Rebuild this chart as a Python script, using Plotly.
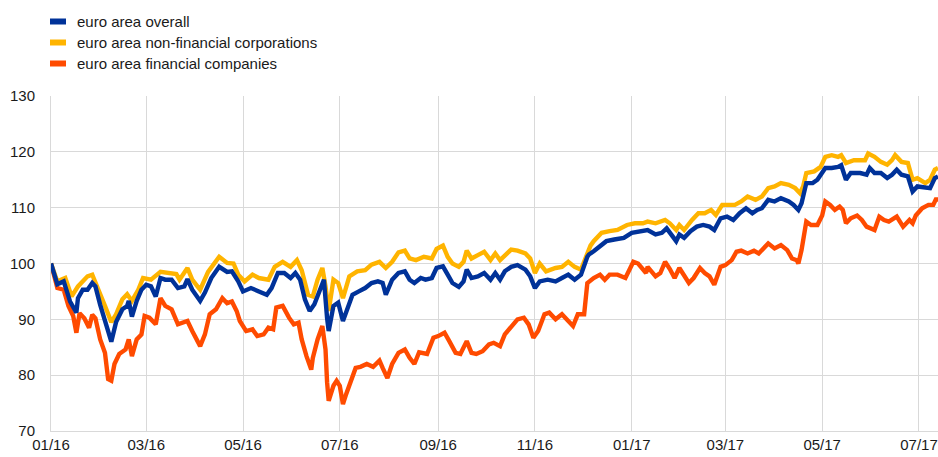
import pandas as pd
import plotly.graph_objects as go

START = "2016-01-01"

# days since 01/01/2016 and index values (01/01/2016 = 100)
overall_days = [0, 4, 8, 12, 16, 17, 20, 23, 26, 28, 31, 34, 36, 38, 41, 45, 48, 49, 51, 54, 57, 60, 63, 66, 69, 72, 76, 80, 84, 86, 89, 94, 97, 101, 106, 111,
                114, 118, 121, 126, 131, 136, 139, 143, 147, 151, 154, 157, 160, 163, 166, 169, 172, 174, 175, 178, 181, 184, 187, 190, 194, 198, 202, 206, 209, 211, 215, 219, 223,
                226, 229, 233, 236, 240, 243, 247, 250, 253, 257, 260, 262, 265, 269, 273, 277, 280, 283, 286, 290, 294, 299, 302, 305, 308, 313, 318, 322, 326, 330, 334, 338,
                339, 342, 346, 350, 355, 361, 366, 371, 376, 381, 385, 388, 391, 394, 396, 399, 403, 407, 411, 415, 418, 422, 426, 430, 434, 438, 442, 445, 448,
                452, 456, 460, 465, 468, 471, 473, 476, 480, 483, 488, 492, 496, 498, 501, 504, 510, 514, 516, 519, 523, 527, 530, 533, 536, 540, 543, 546, 551, 554, 557, 559]
overall = [100.0, 96.3, 96.8, 93.2, 91.2, 93.8, 95.3, 95.3, 96.5, 95.9, 92.6, 89.9, 88.2, 86.0, 89.5, 91.8, 92.4, 93.3, 90.5, 93.3, 95.3, 96.2, 95.9, 94.1, 97.4, 97.1, 97.1, 95.6, 95.9, 97.2, 95.3, 93.3, 94.8, 97.4, 99.4, 98.5,
           98.6, 96.8, 95.0, 95.6, 95.0, 94.4, 95.6, 98.3, 98.3, 97.4, 98.3, 97.1, 93.6, 91.5, 92.7, 94.8, 97.1, 90.2, 87.9, 92.4, 93.0, 89.7, 91.8, 94.4, 95.0, 95.6, 96.5, 96.8, 96.5, 94.4, 97.1, 98.3, 98.6,
           97.1, 96.5, 97.4, 97.1, 97.4, 99.2, 99.5, 98.0, 96.5, 95.8, 96.8, 98.9, 97.4, 97.7, 98.3, 97.1, 98.3, 97.1, 98.6, 99.4, 99.7, 98.9, 97.7, 95.6, 96.8, 97.1, 96.8, 97.4, 98.0, 97.1, 98.0, 101.2,
           101.6, 102.2, 103.1, 104.0, 104.3, 104.6, 105.5, 105.8, 106.0, 105.2, 105.5, 106.3, 105.2, 104.0, 105.2, 104.6, 105.8, 106.6, 106.9, 106.6, 106.0, 108.1, 108.4, 107.8, 109.0, 109.9, 109.0, 109.6, 109.9,
           111.4, 111.1, 111.7, 111.1, 110.5, 109.6, 110.8, 114.4, 114.4, 115.0, 117.1, 117.1, 117.3, 117.6, 115.0, 116.2, 116.2, 115.9, 117.1, 116.2, 116.2, 115.3, 115.9, 116.8, 115.9, 115.6, 112.9, 113.8, 113.5, 113.5, 115.3, 115.6]

nfc_days = [0, 4, 9, 13, 17, 20, 23, 26, 31, 34, 38, 41, 45, 48, 51, 55, 58, 63, 69, 74, 79, 81, 86, 89, 94, 99, 106, 111,
            115, 118, 122, 127, 131, 137, 141, 146, 151, 155, 158, 162, 165, 168, 171, 173, 175, 178, 181, 184, 188, 193, 198, 202, 207, 211, 215, 219, 223,
            226, 230, 235, 240, 243, 247, 250, 253, 257, 260, 262, 265, 269, 273, 277, 280, 283, 286, 290, 294, 299, 302, 305, 308, 312, 318, 322, 326, 330, 334, 338,
            340, 342, 347, 352, 357, 363, 368, 373, 376, 381, 387, 390, 394, 396, 399, 404, 408, 412, 416, 419, 423, 427, 431, 435, 439, 444, 448,
            452, 456, 460, 465, 469, 472, 474, 476, 481, 485, 488, 492, 496, 498, 501, 506, 510, 513, 515, 519, 523, 527, 530, 532, 536, 540, 543, 546, 551, 554, 557, 559]
nfc = [100.0, 96.8, 97.4, 94.1, 95.9, 96.8, 97.7, 98.0, 94.8, 92.4, 89.5, 90.9, 93.6, 94.5, 93.3, 95.3, 97.4, 97.1, 98.5, 98.3, 98.1, 97.1, 99.2, 97.1, 95.3, 98.5, 101.2, 100.1,
       100.0, 98.0, 96.8, 98.0, 97.4, 97.1, 99.4, 100.3, 99.4, 100.6, 98.8, 94.4, 94.1, 97.1, 99.2, 95.9, 91.5, 97.1, 96.5, 93.8, 97.7, 98.6, 98.8, 99.8, 100.3, 99.2, 100.3, 102.0, 102.3,
       100.9, 100.6, 101.2, 100.9, 102.6, 103.2, 101.2, 100.0, 99.4, 100.3, 102.3, 100.9, 101.5, 102.1, 100.6, 101.8, 100.6, 101.5, 102.5, 102.3, 101.8, 100.9, 98.3, 100.0, 98.6, 99.2, 99.4, 100.3, 99.4, 98.9, 102.1,
       103.2, 104.0, 105.5, 105.8, 106.0, 106.9, 107.2, 107.2, 107.5, 107.2, 107.8, 107.2, 106.0, 106.9, 106.0, 107.8, 109.0, 109.0, 109.6, 108.7, 110.5, 110.5, 110.5, 111.1, 112.0, 111.4, 112.0,
       113.5, 113.8, 114.4, 114.1, 113.5, 112.6, 113.8, 116.2, 116.5, 117.3, 119.1, 119.4, 119.1, 119.4, 118.0, 118.5, 118.5, 118.5, 119.7, 119.1, 118.2, 117.7, 118.5, 119.4, 118.2, 118.0, 115.0, 115.3, 114.4, 115.0, 116.8, 117.1]

fin_days = [0, 4, 8, 11, 14, 16, 18, 21, 24, 26, 28, 31, 34, 36, 38, 40, 43, 47, 49, 51, 54, 57, 59, 62, 66, 69, 72, 76, 80, 86, 89, 94, 97, 100, 104, 108, 111,
            114, 117, 119, 123, 127, 130, 134, 137, 140, 142, 146, 150, 153, 156, 158, 161, 164, 165, 168, 171, 173, 174, 175, 178, 180, 182, 184, 186, 189, 192, 195, 199, 203, 207, 209, 212, 215, 219, 223,
            226, 229, 232, 237, 241, 244, 248, 251, 255, 258, 262, 265, 268, 272, 276, 279, 283, 286, 290, 294, 298, 301, 304, 307, 311, 314, 318, 322, 326, 329, 332, 336,
            338, 342, 346, 349, 352, 357, 362, 367, 370, 375, 376, 381, 384, 387, 390, 393, 396, 399, 402, 405, 409, 412, 415, 418, 422, 425, 429, 432, 435, 439, 443, 446, 450,
            452, 456, 460, 464, 467, 470, 471, 473, 476, 479, 483, 486, 488, 491, 494, 497, 499, 501, 504, 508, 511, 514, 519, 522, 525, 528, 533, 537, 541, 543, 545, 549, 553, 556, 558, 559]
fin = [100.0, 95.6, 95.3, 92.4, 90.6, 87.6, 91.1, 90.2, 88.5, 90.8, 90.2, 86.4, 84.0, 79.3, 79.0, 82.0, 83.8, 84.6, 86.4, 83.4, 86.4, 87.3, 90.6, 90.3, 89.1, 93.8, 92.4, 91.8, 89.1, 89.7, 87.9, 85.2, 87.3, 90.9, 91.8, 93.8, 92.9,
       93.2, 91.5, 89.7, 87.9, 88.2, 87.0, 87.3, 88.5, 88.2, 92.1, 92.4, 90.3, 89.1, 89.4, 86.4, 83.4, 81.0, 83.1, 86.4, 88.8, 84.6, 78.7, 75.4, 78.1, 79.0, 78.1, 74.8, 76.6, 78.7, 81.3, 81.5, 82.0, 81.5, 82.6, 81.3, 79.5, 82.0, 84.0, 84.6,
       83.1, 82.0, 84.1, 83.8, 86.7, 87.0, 87.6, 86.1, 84.0, 83.8, 86.1, 84.0, 83.8, 84.3, 85.5, 85.8, 85.2, 87.3, 88.8, 90.0, 90.3, 89.1, 86.7, 87.9, 90.9, 91.2, 90.0, 90.9, 89.7, 88.8, 90.9, 90.9,
       96.5, 97.4, 98.0, 97.1, 98.0, 98.0, 97.4, 100.3, 100.0, 98.3, 99.4, 97.7, 98.3, 100.3, 99.0, 97.4, 99.2, 97.7, 96.5, 97.4, 99.2, 98.3, 97.7, 96.2, 99.4, 99.7, 100.6, 102.1, 102.3, 101.8, 102.3, 101.8, 103.0,
       103.6, 102.7, 103.3, 102.4, 100.9, 100.6, 100.0, 102.4, 107.5, 106.9, 106.9, 108.6, 111.1, 110.5, 109.6, 110.2, 109.6, 107.2, 108.1, 108.6, 107.8, 106.6, 106.0, 108.4, 107.8, 107.5, 108.4, 106.6, 107.8, 107.2, 108.6, 109.9, 110.5, 110.5, 111.7, 111.1]

series_names = ["euro area overall", "euro area non-financial corporations", "euro area financial companies"]
series_colors = ["#003299", "#FFB400", "#FF4B00"]
y_ticks = [70, 80, 90, 100, 110, 120, 130]

def to_dates(days):
    return pd.Timestamp(START) + pd.to_timedelta(days, unit="D")

series = [(overall_days, overall), (nfc_days, nfc), (fin_days, fin)]

fig = go.Figure()
# draw financial first, then NFC, then overall on top
for i in [2, 1, 0]:
    d, v = series[i]
    fig.add_trace(go.Scatter(x=to_dates(d), y=v, mode="lines", name=series_names[i],
                             line=dict(color=series_colors[i], width=4.4), showlegend=False))

W, H = 938, 457
PL, PR, PT, PB = 51, 938, 96, 431          # plot area in window pixels
L, R, T, B = PL, W - PR, PT, H - PB

def px_x(x):
    return (x - PL) / (PR - PL)

def px_y(y):
    return (PB - y) / (PB - PT)

shapes, annotations = [], []
row_y = [21.5, 42.5, 63.5]
for i, name in enumerate(series_names):
    shapes.append(dict(type="rect", xref="paper", yref="paper",
                       x0=px_x(50), x1=px_x(66), y0=px_y(row_y[i] + 3), y1=px_y(row_y[i] - 3),
                       fillcolor=series_colors[i], line=dict(width=0)))
    annotations.append(dict(text=name, xref="paper", yref="paper", x=px_x(75), y=px_y(row_y[i]),
                            xanchor="left", yanchor="middle", showarrow=False,
                            font=dict(size=15, color="#1a1a1a")))

fig.update_layout(
    width=W, height=H,
    margin=dict(l=L, r=R, t=T, b=B, autoexpand=False),
    paper_bgcolor="white", plot_bgcolor="white",
    font=dict(family="Liberation Sans, Arial, sans-serif", size=15, color="#1a1a1a"),
    shapes=shapes, annotations=annotations,
    showlegend=False,
    xaxis=dict(type="date", range=[to_dates([0])[0], to_dates([559])[0]],
               tick0=START, dtick="M2", tickformat="%m/%y", automargin=False,
               showgrid=True, gridcolor="#d9d9d9", gridwidth=1,
               showline=True, linecolor="#d9d9d9", linewidth=1,
               ticks="", zeroline=False, tickfont=dict(size=15)),
    yaxis=dict(range=[70, 130], tickvals=y_ticks, automargin=False,
               showgrid=True, gridcolor="#d9d9d9", gridwidth=1,
               showline=True, linecolor="#d9d9d9", linewidth=1,
               ticks="", zeroline=False, ticklabelstandoff=12, tickfont=dict(size=15)),
)

# remove the browser's default 8px body margin so the figure fills the window exactly
fig.write_html("out.html", config={"displayModeBar": False},
               post_script="document.body.style.margin='0';")
